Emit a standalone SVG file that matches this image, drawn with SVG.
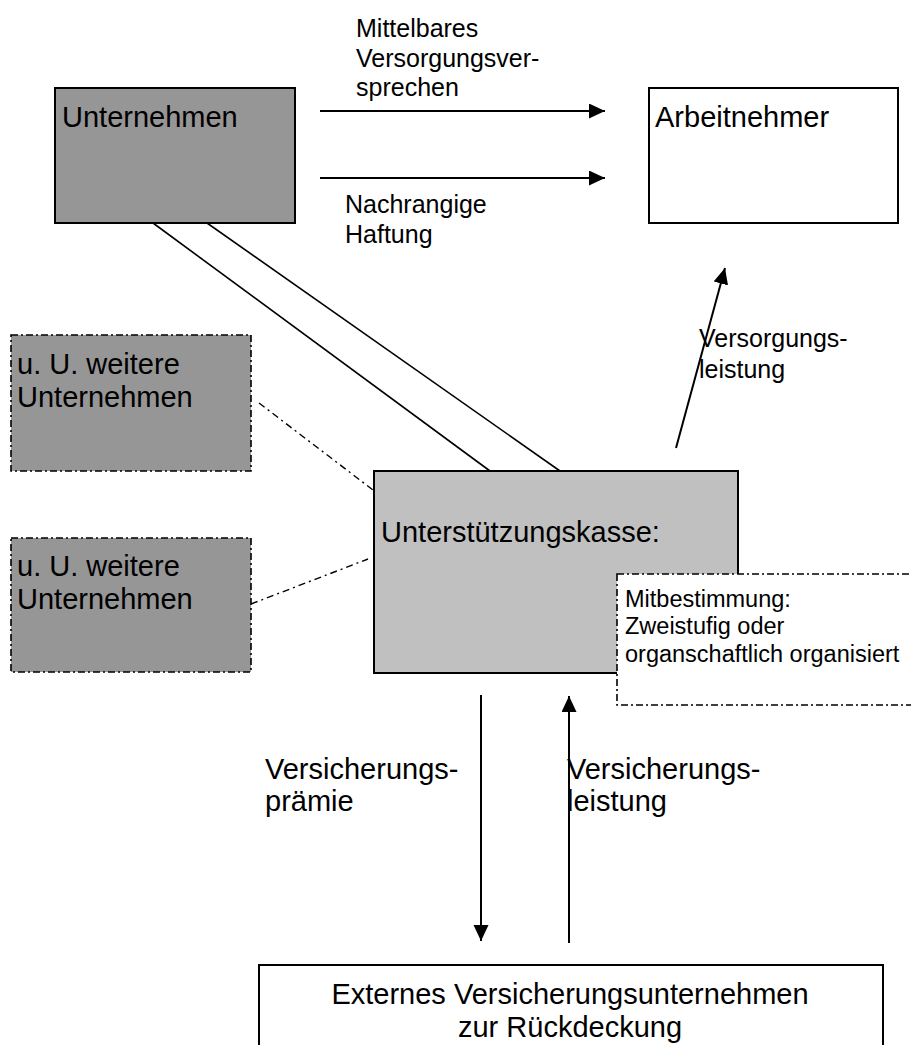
<svg xmlns="http://www.w3.org/2000/svg" width="911" height="1045" viewBox="0 0 911 1045">
<style>
  text { font-family: "Liberation Sans", Arial, sans-serif; fill: #000; }
  .big { font-size: 29px; }
  .small { font-size: 25px; }
  .note { font-size: 23.5px; }
  .box { stroke: #000; stroke-width: 2; }
  .dashbox { stroke: #000; stroke-width: 1.6; stroke-dasharray: 7 3 2 3; }
  .arrow { stroke: #000; stroke-width: 2; fill: none; }
  .thin { stroke: #000; stroke-width: 1.6; fill: none; }
  .dd { stroke: #000; stroke-width: 1.4; fill: none; stroke-dasharray: 7 4 2 4; }
</style>
<defs>
  <marker id="ah" markerUnits="userSpaceOnUse" markerWidth="18" markerHeight="16" refX="16" refY="7.5" orient="auto">
    <path d="M0,0 L16,7.5 L0,15 Z" fill="#000"/>
  </marker>
</defs>
<rect width="911" height="1045" fill="#fff"/>

<g id="connectors">
  <line class="arrow" x1="320" y1="111" x2="605" y2="111" marker-end="url(#ah)"/>
  <line class="arrow" x1="320" y1="178" x2="605" y2="178" marker-end="url(#ah)"/>
  <line class="thin" x1="153" y1="223" x2="490" y2="471"/>
  <line class="thin" x1="207" y1="223" x2="560" y2="471"/>
  <line class="dd" x1="259" y1="403" x2="373" y2="490"/>
  <line class="dd" x1="251" y1="604" x2="368" y2="559"/>
  <line class="arrow" x1="676" y1="448" x2="725" y2="268" marker-end="url(#ah)"/>
  <line class="arrow" x1="481" y1="695" x2="481" y2="941" marker-end="url(#ah)"/>
  <line class="arrow" x1="569" y1="943" x2="569" y2="696" marker-end="url(#ah)"/>
</g>

<g id="labels">
  <text class="small" x="356" y="37">Mittelbares</text>
  <text class="small" x="356" y="67">Versorgungsver-</text>
  <text class="small" x="356" y="96">sprechen</text>
  <text class="small" x="345" y="213">Nachrangige</text>
  <text class="small" x="345" y="243">Haftung</text>
  <text class="small" x="699" y="347">Versorgungs-</text>
  <text class="small" x="699" y="378">leistung</text>
  <text class="big" x="265" y="779">Versicherungs-</text>
  <text class="big" x="265" y="811">prämie</text>
  <text class="big" x="567" y="779">Versicherungs-</text>
  <text class="big" x="567" y="811">leistung</text>
</g>

<g id="unternehmen">
  <rect class="box" x="55" y="88" width="240" height="135" fill="#969696"/>
  <text class="big" x="62" y="127">Unternehmen</text>
</g>

<g id="arbeitnehmer">
  <rect class="box" x="649" y="88" width="249" height="135" fill="#fff"/>
  <text class="big" x="655" y="127">Arbeitnehmer</text>
</g>

<g id="weitere1">
  <rect class="dashbox" x="11" y="335" width="240" height="136" fill="#969696"/>
  <text class="big" x="17" y="374">u. U. weitere</text>
  <text class="big" x="17" y="407">Unternehmen</text>
</g>

<g id="weitere2">
  <rect class="dashbox" x="11" y="538" width="240" height="134" fill="#969696"/>
  <text class="big" x="17" y="576">u. U. weitere</text>
  <text class="big" x="17" y="609">Unternehmen</text>
</g>

<g id="unterstuetzungskasse">
  <rect class="box" x="374" y="471" width="364" height="202" fill="#c0c0c0"/>
  <text class="big" x="381" y="542">Unterstützungskasse:</text>
</g>

<g id="mitbestimmung">
  <rect class="dashbox" x="617" y="574" width="300" height="131" fill="#fff"/>
  <text class="note" x="625" y="607">Mitbestimmung:</text>
  <text class="note" x="625" y="634">Zweistufig oder</text>
  <text class="note" x="625" y="662">organschaftlich organisiert</text>
</g>

<g id="versicherer">
  <rect class="box" x="259" y="965" width="624" height="100" fill="#fff"/>
  <text class="big" x="570" y="1004" text-anchor="middle">Externes Versicherungsunternehmen</text>
  <text class="big" x="570" y="1037" text-anchor="middle">zur Rückdeckung</text>
</g>
</svg>
